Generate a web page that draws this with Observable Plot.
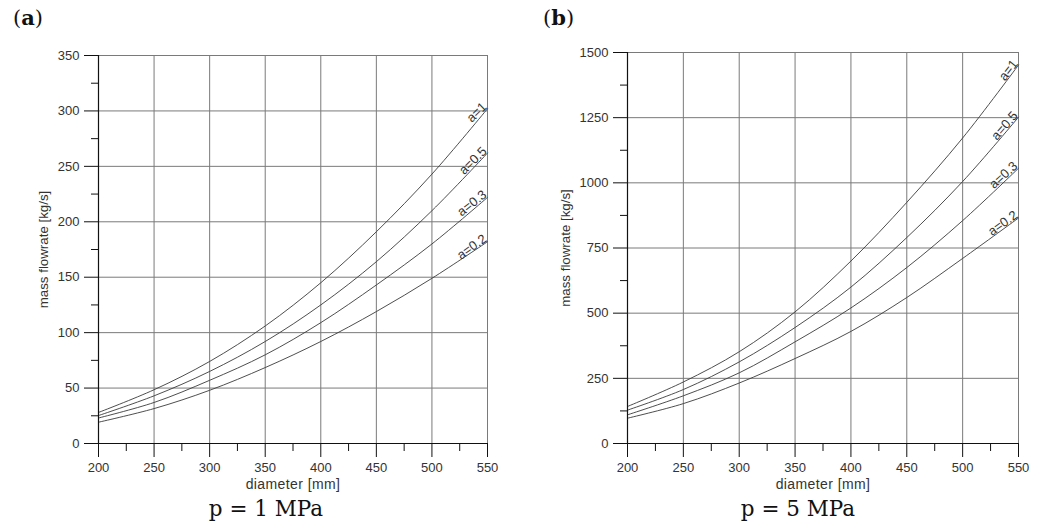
<!DOCTYPE html>
<html>
<head>
<meta charset="utf-8">
<script src="https://cdn.jsdelivr.net/npm/d3@7"></script>
<script src="https://cdn.jsdelivr.net/npm/@observablehq/plot@0.6"></script>
<style>
  body { margin: 0; background: #fff; width: 1038px; height: 531px; position: relative; overflow: hidden; }
  .panel { position: absolute; top: 0; z-index: 1; }
  .fig { position: absolute; top: 5px; z-index: 3; font-family: "DejaVu Serif", serif; font-size: 21px; color: #111; }
  .cap { position: absolute; top: 496px; z-index: 3; font-family: "DejaVu Serif", serif; font-size: 21.5px; color: #111; transform: translateX(-50%); white-space: nowrap; }
  .xlab text { letter-spacing: 0.4px; }
</style>
</head>
<body>
<div class="fig" style="left:13px">(<b>a</b>)</div>
<div class="fig" style="left:543px">(<b>b</b>)</div>
<div id="pa" class="panel" style="left:0px"></div>
<div id="pb" class="panel" style="left:530px"></div>
<div class="cap" style="left:266px">p = 1 MPa</div>
<div class="cap" style="left:798px">p = 5 MPa</div>
<script>
// diameters [mm]
const diameter = [200, 250, 300, 350, 400, 450, 500, 550];

// panel (a): p = 1 MPa, mass flowrate [kg/s]
const p1_a1  = [28, 48.5, 74, 106, 145, 191, 243, 302];
const p1_a05 = [25.2, 43, 65, 92, 125, 164, 210, 262];
const p1_a03 = [23, 37, 57, 80, 109, 143, 180, 222];
const p1_a02 = [19.2, 31.5, 48, 68.5, 92, 119, 149, 182];

// panel (b): p = 5 MPa, mass flowrate [kg/s]
const p5_a1  = [142, 236, 352, 505, 700, 925, 1172, 1452];
const p5_a05 = [128, 207, 313, 445, 600, 790, 1005, 1252];
const p5_a03 = [110, 183, 271, 390, 520, 675, 855, 1056];
const p5_a02 = [97, 153, 232, 326, 430, 560, 710, 865];

const seriesNames = ["a=1", "a=0.5", "a=0.3", "a=0.2"];
const p1Rot = [-44, -45, -38, -36];
const p5Rot = [-52, -49, -42, -36];

const xLabel = "diameter [mm]";
const yLabel = "mass flowrate [kg/s]";

const xMajor = [200, 250, 300, 350, 400, 450, 500, 550];
const xMinor = [225, 275, 325, 375, 425, 475, 525];
const yMajorA = [0, 50, 100, 150, 200, 250, 300, 350];
const yMinorA = [25, 75, 125, 175, 225, 275, 325];
const yMajorB = [0, 250, 500, 750, 1000, 1250, 1500];
const yMinorB = [125, 375, 625, 875, 1125, 1375];

function makePanel(series, rots, yMax, yMajor, yMinor, opts) {
  const data = [];
  series.forEach((vals, i) => vals.forEach((v, j) => data.push({d: diameter[j], m: v, s: seriesNames[i]})));
  const labels = series.map((vals, i) => ({d: diameter[diameter.length - 1], m: vals[vals.length - 1], s: seriesNames[i], r: rots[i]}));
  const font = "Liberation Sans, Arial, sans-serif";
  return Plot.plot({
    width: opts.width, height: 495,
    marginLeft: opts.ml, marginRight: opts.mr, marginTop: opts.mt, marginBottom: 52,
    style: {fontFamily: font, fontSize: "13px", color: "#333", background: "transparent", overflow: "visible"},
    x: {domain: [200, 550]},
    y: {domain: [0, yMax]},
    marks: [
      Plot.gridX(xMajor, {stroke: "#7a7a7a", strokeOpacity: 1, strokeWidth: 1}),
      Plot.gridY(yMajor, {stroke: "#7a7a7a", strokeOpacity: 1, strokeWidth: 1}),
      Plot.line(data, {x: "d", y: "m", z: "s", curve: "catmull-rom", stroke: "#3a3a3a", strokeWidth: 0.9}),
      ...labels.map(l => Plot.text([l], {x: "d", y: "m", text: "s", rotate: l.r, textAnchor: "end", lineAnchor: "bottom", dy: -1, fontSize: 13, fill: "#333"})),
      Plot.ruleX([200], {stroke: "#111", strokeWidth: 1.2}),
      Plot.ruleY([0], {stroke: "#111", strokeWidth: 1.2}),
      Plot.axisX(xMinor, {tickSize: 8, text: null, stroke: "#111", label: null}),
      Plot.axisX(xMajor, {tickSize: 14, tickPadding: 5, stroke: "#111", fill: "#333", fontSize: 13, tickFormat: d => String(d), label: null}),
      Plot.axisY(yMinor, {tickSize: 7, text: null, stroke: "#111", label: null}),
      Plot.axisY(yMajor, {tickSize: 14, tickPadding: 5, stroke: "#111", fill: "#333", fontSize: 13, tickFormat: d => String(d), label: null}),
      Plot.text([xLabel], {frameAnchor: "bottom", dy: 41, textAnchor: "middle", lineAnchor: "middle", fontSize: 14, fill: "#333", className: "xlab"}),
      Plot.text([yLabel], {frameAnchor: "left", dx: opts.ydx, rotate: -90, textAnchor: "middle", lineAnchor: "middle", fontSize: 13.3, fill: "#333"})
    ]
  });
}

document.getElementById("pa").appendChild(
  makePanel([p1_a1, p1_a05, p1_a03, p1_a02], p1Rot, 350, yMajorA, yMinorA, {width: 520, ml: 98, mr: 33, mt: 55, ydx: -55}));
document.getElementById("pb").appendChild(
  makePanel([p5_a1, p5_a05, p5_a03, p5_a02], p5Rot, 1500, yMajorB, yMinorB, {width: 508, ml: 97, mr: 20, mt: 52, ydx: -62}));
</script>
</body>
</html>
